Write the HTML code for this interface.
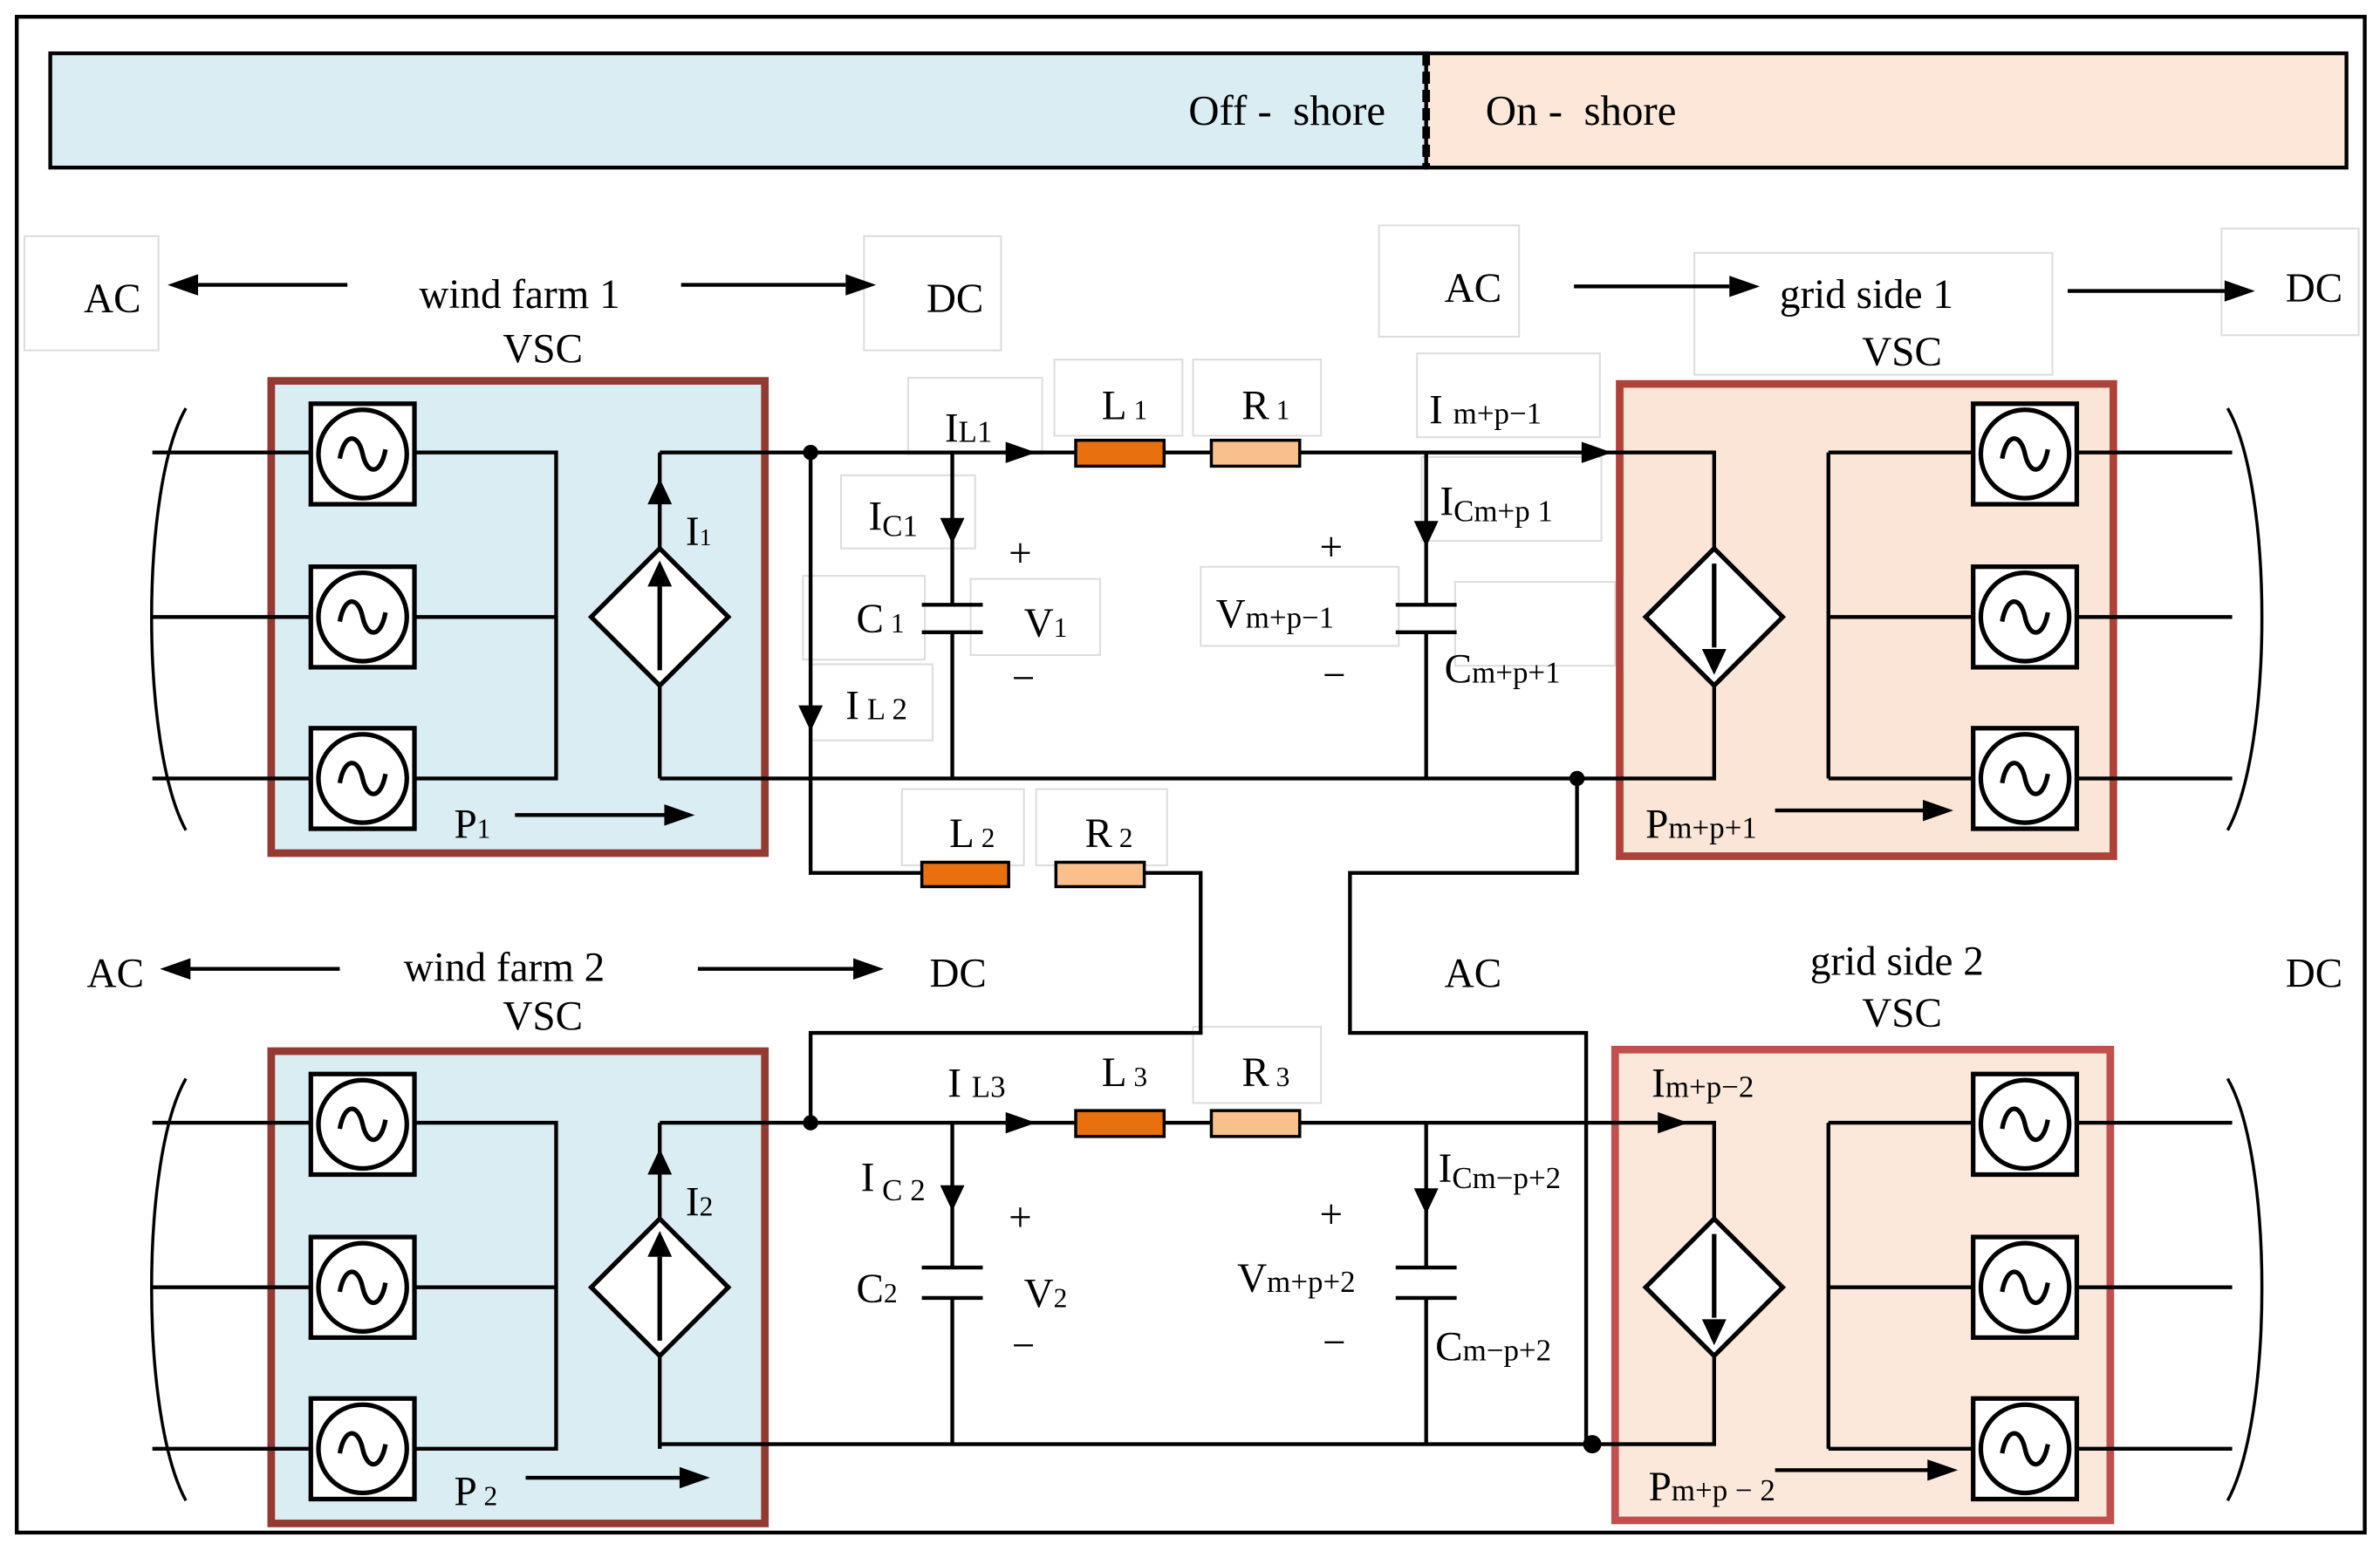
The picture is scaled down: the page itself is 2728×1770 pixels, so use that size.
<!DOCTYPE html>
<html><head><meta charset="utf-8"><style>
html,body{margin:0;padding:0;background:#fff}
svg{display:block}
text{font-family:"Liberation Serif",serif;fill:#000}
</style></head><body>
<svg width="2728" height="1770" viewBox="0 0 1562 1013.5" preserveAspectRatio="none" xmlns="http://www.w3.org/2000/svg">
<defs>
<g id="src"><rect x="-34" y="-33" width="68" height="66" fill="#fff" stroke="#000" stroke-width="3"/><circle r="29" fill="none" stroke="#000" stroke-width="3"/><path d="M-15,3 C-12,-14 -3,-14 0,0 S12,14 15,-3" fill="none" stroke="#000" stroke-width="3"/></g>
<path id="ar" d="M0,0 L-20,-7 L-20,7 Z"/>
<path id="ad" d="M0,0 L-8,-17 L8,-17 Z"/>
<path id="au" d="M0,0 L-8,17 L8,17 Z"/>
<g id="lvsc">
<rect x="178" y="250" width="324" height="310" fill="#daedf3" stroke="#943a33" stroke-width="5"/>
<path d="M100,297 H204 M100,405 H204 M100,511 H204 M272,297 H365 V511 H272 M272,405 H365 M433,360 V297 M433,450 V511" fill="none" stroke="#000" stroke-width="2.5"/>
<path d="M122,268 C92,320 92,490 122,545" fill="none" stroke="#000" stroke-width="2"/>
<use href="#src" x="238" y="298"/><use href="#src" x="238" y="405"/><use href="#src" x="238" y="511"/>
<polygon points="433,360 478,405 433,450 388,405" fill="#fff" stroke="#000" stroke-width="3"/>
<path d="M433,440 V385" stroke="#000" stroke-width="3"/><use href="#au" x="433" y="368"/>
<use href="#au" x="433" y="314"/>
</g>
<g id="rvsc">
<path d="M1200,297 H1295 M1200,405 H1295 M1200,511 H1295 M1200,297 V511 M1363,297 H1465 M1363,405 H1465 M1363,511 H1465" fill="none" stroke="#000" stroke-width="2.5"/>
<path d="M1462,268 C1492,320 1492,490 1462,545" fill="none" stroke="#000" stroke-width="2"/>
<use href="#src" x="1329" y="298"/><use href="#src" x="1329" y="405"/><use href="#src" x="1329" y="511"/>
<polygon points="1125,360 1170,405 1125,450 1080,405" fill="#fff" stroke="#000" stroke-width="3"/>
<path d="M1125,370 V425" stroke="#000" stroke-width="3"/><use href="#ad" x="1125" y="443"/>
</g>
</defs>
<rect x="11" y="11" width="1541" height="995" fill="none" stroke="#000" stroke-width="2.5"/>
<rect x="33" y="35" width="903" height="75" fill="#daedf3" stroke="#000" stroke-width="2.5"/>
<rect x="936" y="35" width="604" height="75" fill="#fde7d8" stroke="#000" stroke-width="2.5"/>
<line x1="936" y1="35" x2="936" y2="110" stroke="#000" stroke-width="5" stroke-dasharray="8,4"/>
<text x="780" y="82" font-size="28" xml:space="preserve">Off -  shore</text>
<text x="975" y="82" font-size="28" xml:space="preserve">On -  shore</text>
<g fill="none" stroke="#ddd" stroke-width="1.2">
<rect x="16" y="155" width="88" height="75"/><rect x="567" y="155" width="90" height="75"/><rect x="905" y="148" width="92" height="73"/><rect x="1112" y="166" width="235" height="80"/><rect x="1458" y="150" width="90" height="70"/>
<rect x="596" y="248" width="88" height="50"/><rect x="692" y="236" width="84" height="50"/><rect x="783" y="236" width="84" height="50"/><rect x="930" y="232" width="120" height="55"/><rect x="552" y="312" width="88" height="48"/><rect x="933" y="300" width="118" height="55"/><rect x="527" y="378" width="80" height="55"/><rect x="637" y="380" width="85" height="50"/><rect x="788" y="372" width="130" height="52"/><rect x="955" y="382" width="105" height="55"/><rect x="532" y="436" width="80" height="50"/><rect x="592" y="518" width="80" height="50"/><rect x="680" y="518" width="86" height="50"/><rect x="783" y="674" width="84" height="50"/>
</g>
<use href="#lvsc"/>
<use href="#lvsc" transform="translate(0,440)"/>
<rect x="1063" y="252" width="324" height="310" fill="#fbe5d6" stroke="#b0413a" stroke-width="5"/>
<use href="#rvsc"/>
<rect x="1060" y="689" width="325" height="309" fill="#fbe8db" stroke="#c0504d" stroke-width="5"/>
<use href="#rvsc" transform="translate(0,440)"/>
<g fill="none" stroke="#000" stroke-width="2.5">
<path d="M433,297 H1125 V360 M433,511 H1125 V450"/>
<path d="M433,737 H1125 V800 M433,948 H1125 V890"/>
<path d="M625,297 V397 M605,397 H645 M605,415 H645 M625,415 V511"/>
<path d="M936,297 V397 M916,397 H956 M916,415 H956 M936,415 V511"/>
<path d="M625,737 V832 M605,832 H645 M605,852 H645 M625,852 V948"/>
<path d="M936,737 V832 M916,832 H956 M916,852 H956 M936,852 V948"/>
<path d="M532,297 V573 H605 M751,573 H788 V678 H532 V737"/>
<path d="M1035,511 V573 H886 V678 H1041 V948"/>
<path d="M338,535 H440 M345,970 H448 M1165,532 H1265 M1165,965 H1268"/>
<path d="M228,187 H125 M447,187 H555 M1033,188 H1135 M1357,191 H1462 M223,636 H120 M458,636 H562"/>
</g>
<g stroke="#000" stroke-width="2">
<rect x="706" y="289" width="58" height="17" fill="#e8700f"/><rect x="795" y="289" width="58" height="17" fill="#f9c08e"/>
<rect x="605" y="566" width="57" height="16" fill="#e8700f"/><rect x="693" y="566" width="58" height="16" fill="#f9c08e"/>
<rect x="706" y="729" width="58" height="17" fill="#e8700f"/><rect x="795" y="729" width="58" height="17" fill="#f9c08e"/>
</g>
<circle cx="532" cy="297" r="5"/><circle cx="532" cy="737" r="5"/><circle cx="1035" cy="511" r="5"/><circle cx="1045" cy="948" r="6"/>
<use href="#ar" x="680" y="297"/><use href="#ar" x="1058" y="297"/><use href="#ar" x="680" y="737"/><use href="#ar" x="1108" y="737"/>
<use href="#ad" x="625" y="357"/><use href="#ad" x="936" y="359"/><use href="#ad" x="532" y="480"/><use href="#ad" x="625" y="795"/><use href="#ad" x="936" y="797"/>
<use href="#ar" x="456" y="535"/><use href="#ar" x="466" y="970"/><use href="#ar" x="1282" y="532"/><use href="#ar" x="1285" y="965"/>
<use href="#ar" x="110" y="187" transform="rotate(180 110 187)"/><use href="#ar" x="575" y="187"/><use href="#ar" x="1155" y="188"/><use href="#ar" x="1480" y="191"/>
<use href="#ar" x="105" y="636" transform="rotate(180 105 636)"/><use href="#ar" x="580" y="636"/>
<g font-size="27">
<text x="55" y="205">AC</text><text x="275" y="202">wind farm 1</text><text x="330" y="238">VSC</text><text x="608" y="205">DC</text>
<text x="948" y="198">AC</text><text x="1168" y="202">grid side 1</text><text x="1222" y="240">VSC</text><text x="1500" y="198">DC</text>
<text x="57" y="648">AC</text><text x="265" y="644">wind farm 2</text><text x="330" y="676">VSC</text><text x="610" y="648">DC</text>
<text x="948" y="648">AC</text><text x="1188" y="640">grid side 2</text><text x="1222" y="674">VSC</text><text x="1500" y="648">DC</text>
<text x="620" y="290">I<tspan font-size="20">L1</tspan></text>
<text x="723" y="275">L<tspan font-size="18"> 1</tspan></text><text x="815" y="275">R<tspan font-size="18"> 1</tspan></text>
<text x="938" y="278">I <tspan font-size="20">m+p−1</tspan></text>
<text x="945" y="338">I<tspan font-size="20" dy="4">Cm+p 1</tspan></text>
<text x="570" y="348">I<tspan font-size="20" dy="4">C1</tspan></text>
<text x="662" y="372">+</text><text x="562" y="415">C<tspan font-size="18"> 1</tspan></text><text x="672" y="418">V<tspan font-size="18">1</tspan></text><text x="664" y="454">−</text>
<text x="555" y="472">I<tspan font-size="20"> L 2</tspan></text>
<text x="866" y="368">+</text><text x="798" y="412">V<tspan font-size="20">m+p−1</tspan></text><text x="868" y="452">−</text>
<text x="948" y="448">C<tspan font-size="20">m+p+1</tspan></text>
<text x="450" y="358">I<tspan font-size="16">1</tspan></text>
<text x="298" y="550">P<tspan font-size="18">1</tspan></text>
<text x="623" y="556">L<tspan font-size="18"> 2</tspan></text><text x="712" y="556">R<tspan font-size="18"> 2</tspan></text>
<text x="622" y="720">I <tspan font-size="20">L3</tspan></text>
<text x="723" y="713">L<tspan font-size="18"> 3</tspan></text><text x="815" y="713">R<tspan font-size="18"> 3</tspan></text>
<text x="1084" y="720">I<tspan font-size="20">m+p−2</tspan></text>
<text x="565" y="782">I<tspan font-size="20" dy="6"> C 2</tspan></text>
<text x="662" y="808">+</text><text x="562" y="855">C<tspan font-size="18">2</tspan></text><text x="672" y="858">V<tspan font-size="18">2</tspan></text><text x="664" y="892">−</text>
<text x="866" y="806">+</text><text x="812" y="848">V<tspan font-size="20">m+p+2</tspan></text><text x="868" y="890">−</text>
<text x="944" y="776">I<tspan font-size="20" dy="4">Cm−p+2</tspan></text>
<text x="942" y="893">C<tspan font-size="20">m−p+2</tspan></text>
<text x="450" y="798">I<tspan font-size="18">2</tspan></text>
<text x="298" y="988">P<tspan font-size="18"> 2</tspan></text>
<text x="1080" y="550">P<tspan font-size="20">m+p+1</tspan></text>
<text x="1082" y="985">P<tspan font-size="20">m+p − 2</tspan></text>
</g>
</svg>
</body></html>
